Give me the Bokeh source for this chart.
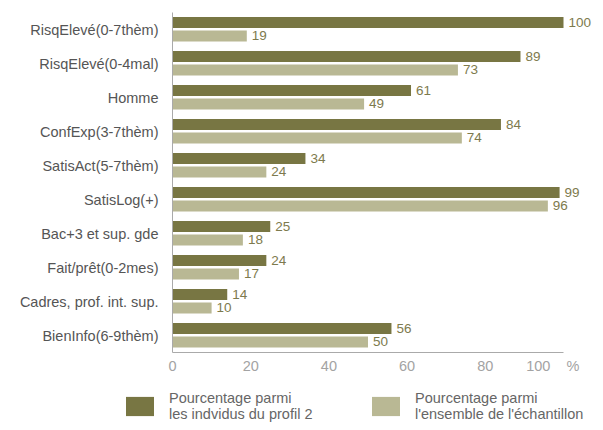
from bokeh.plotting import figure
from bokeh.models import (ColumnDataSource, Range1d, LabelSet, Legend, LegendItem,
                          FixedTicker)
from bokeh.transform import dodge
from bokeh.core.properties import value
from bokeh.embed import file_html
from bokeh.resources import INLINE

categories = ["RisqElevé(0-7thèm)", "RisqElevé(0-4mal)", "Homme", "ConfExp(3-7thèm)",
              "SatisAct(5-7thèm)", "SatisLog(+)", "Bac+3 et sup. gde",
              "Fait/prêt(0-2mes)", "Cadres, prof. int. sup.", "BienInfo(6-9thèm)"]
profil2 = [100, 89, 61, 84, 34, 99, 25, 24, 14, 56]
ensemble = [19, 73, 49, 74, 24, 96, 18, 17, 10, 50]
x_ticks = [0, 20, 40, 60, 80, 100]
x_tick_labels = {100: "100\u00a0\u00a0\u00a0\u00a0%\u00a0\u00a0\u00a0\u00a0"}
legend_labels = ["Pourcentage parmi\nles indvidus du profil 2",
                 "Pourcentage parmi\nl'ensemble de l'échantillon"]

DARK = "#787643"
LIGHT = "#b9b894"
FONT = "Liberation Sans"

n = len(categories)
pos = list(range(n))[::-1]          # first category at the top
src = ColumnDataSource(dict(pos=pos, cat=categories, p2=profil2, ens=ensemble,
                            p2_txt=[str(v) for v in profil2],
                            ens_txt=[str(v) for v in ensemble]))

W, H = 595, 422
left_px, right_px, top_px, bottom_px = 172, 563, 12, 352
xs = (right_px - left_px) / 100.0      # px per percent
ys = (bottom_px - top_px) / n          # px per category
x_range = Range1d(-left_px / xs, (W - left_px) / xs)
y_range = Range1d(-0.5 - (H - bottom_px) / ys, n - 0.5 + top_px / ys)

p = figure(width=W, height=H, output_backend="svg", toolbar_location=None,
           x_range=x_range, y_range=y_range,
           min_border_left=0, min_border_right=0, min_border_top=0, min_border_bottom=0)
p.outline_line_color = None
p.xgrid.grid_line_color = None
p.ygrid.grid_line_color = None
p.background_fill_color = "white"
p.border_fill_color = "white"

r1 = p.hbar(y=dodge("pos", 0.205), right="p2", left=0, height=0.32,
            source=src, fill_color=DARK, line_color=None)
r2 = p.hbar(y=dodge("pos", -0.19), right="ens", left=0, height=0.32,
            source=src, fill_color=LIGHT, line_color=None)

for xcol, tcol, off in (("p2", "p2_txt", 0.205), ("ens", "ens_txt", -0.19)):
    lab = LabelSet(x=xcol, y=dodge("pos", off), text=tcol, source=src,
                   x_offset=5, y_offset=0, text_align="left", text_baseline="middle",
                   text_font=value(FONT), text_font_size=value("13.5px"),
                   text_color=value("#7d7a4d"))
    p.add_layout(lab)

# x axis drawn along the bottom of the category bands
p.xaxis.fixed_location = -0.5
p.xaxis.ticker = FixedTicker(ticks=x_ticks)
p.xaxis.bounds = (0, 100)
p.xaxis.major_label_overrides = x_tick_labels
p.xaxis.major_tick_line_color = None
p.xaxis.major_tick_out = 0
p.xaxis.major_tick_in = 0
p.xaxis.minor_tick_line_color = None
p.xaxis.axis_line_color = "#aaaaaa"
p.xaxis.major_label_text_color = "#a3a3a3"
p.xaxis.major_label_text_font = FONT
p.xaxis.major_label_text_font_size = "14.5px"
p.xaxis.major_label_standoff = 5

# y axis at x = 0 with category names
p.yaxis.fixed_location = 0
p.yaxis.ticker = FixedTicker(ticks=pos)
p.yaxis.major_label_overrides = {pv: c for pv, c in zip(pos, categories)}
p.yaxis.bounds = (-0.5, n - 0.5)
p.yaxis.major_tick_line_color = None
p.yaxis.major_tick_out = 0
p.yaxis.major_tick_in = 0
p.yaxis.minor_tick_line_color = None
p.yaxis.axis_line_color = "#aaaaaa"
p.yaxis.major_label_text_color = "#555555"
p.yaxis.major_label_text_font = FONT
p.yaxis.major_label_text_font_size = "14.5px"
p.yaxis.major_label_standoff = 14

for rend, lbl, x in ((r1, legend_labels[0], 122), (r2, legend_labels[1], 368)):
    lg = Legend(items=[LegendItem(label=lbl, renderers=[rend])], location=(x, 0),
                glyph_width=35, glyph_height=24, label_standoff=12,
                label_text_font=FONT, label_text_font_size="14.5px",
                label_text_line_height=1.12,
                label_text_color="#666666", padding=0, margin=0,
                border_line_color=None, background_fill_alpha=0)
    p.add_layout(lg, "center")

open("out.html", "w").write(file_html(p, INLINE))
